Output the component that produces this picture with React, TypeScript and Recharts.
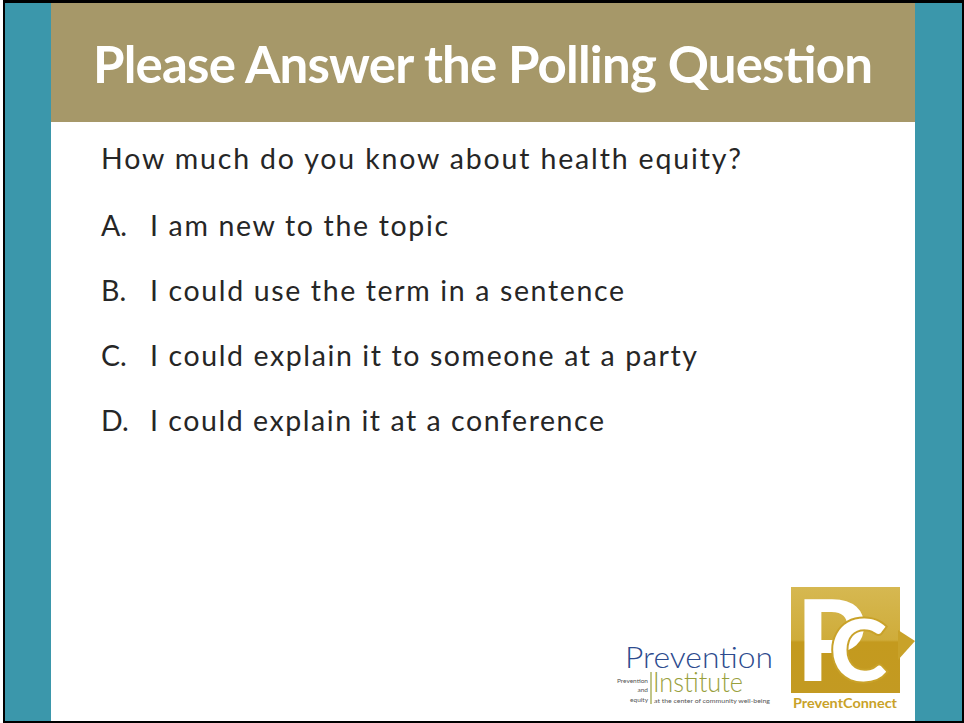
import { BarChart, Bar, XAxis, YAxis } from 'recharts';

const TITLE = 'Please Answer the Polling Question';
const QUESTION = 'How much do you know about health equity?';
const LETTERS = ['A.', 'B.', 'C.', 'D.'];
const OPTIONS = [
  'I am new to the topic',
  'I could use the term in a sentence',
  'I could explain it to someone at a party',
  'I could explain it at a conference',
];
// votes are not shown on the slide, every bar stays empty
const VOTES = [0, 0, 0, 0];

const TEAL = '#3b97ab';
const GOLD = '#a69869';
const INK = '#262626';
const FONT = 'Lato, "Open Sans", sans-serif';

// measured text widths on the slide (Calibri there, so spacing is stretched)
const OPTION_WIDTHS = [298, 474, 547, 454];

const rows = OPTIONS.map((option, i) => ({ option, letter: LETTERS[i], votes: VOTES[i] }));

function OptionTick(props: any) {
  const { y, payload } = props;
  const i = payload.index;
  return (
    <g>
      <text x={101} y={y} dy={9} fill={INK} fontFamily={FONT} fontSize={28.5}>
        {LETTERS[i]}
      </text>
      <text
        x={150}
        y={y}
        dy={9}
        fill={INK}
        fontFamily={FONT}
        fontSize={28.5}
        textLength={OPTION_WIDTHS[i]}
        lengthAdjust="spacing"
      >
        {payload.value}
      </text>
    </g>
  );
}

function Slide() {
  return (
    <svg width={964} height={723} style={{ position: 'absolute', left: 0, top: 0 }}>
      <rect x={0} y={0} width={964} height={723} fill="#fff" />
      <rect x={3} y={0} width={961} height={723} fill="#000" />
      <rect x={5} y={3} width={957} height={718} fill={TEAL} />
      <rect x={51} y={3} width={864} height={718} fill="#fff" />
      <rect x={51} y={3} width={864} height={119} fill={GOLD} />
      <text
        x={483}
        y={83}
        textAnchor="middle"
        fill="#fff"
        fontFamily={FONT}
        fontWeight={700}
        fontSize={51}
        textLength={780}
        lengthAdjust="spacing"
      >
        {TITLE}
      </text>
      <text
        x={101}
        y={169}
        fill={INK}
        fontFamily={FONT}
        fontSize={28.5}
        textLength={640}
        lengthAdjust="spacing"
      >
        {QUESTION}
      </text>
    </svg>
  );
}

function Logos() {
  return (
    <svg width={964} height={723} style={{ position: 'absolute', left: 0, top: 0, pointerEvents: 'none' }}>
      <defs>
        <linearGradient id="pcGold" x1="0" y1="0" x2="0" y2="1">
          <stop offset="0" stopColor="#d6b851" />
          <stop offset="0.5" stopColor="#cfac3a" />
          <stop offset="0.52" stopColor="#c49a1e" />
          <stop offset="1" stopColor="#c39a22" />
        </linearGradient>
      </defs>
      {/* Prevention Institute */}
      <text x={625} y={668} fill="#2d4b8e" fontFamily={FONT} fontWeight={300} fontSize={29} textLength={148} lengthAdjust="spacingAndGlyphs">
        Prevention
      </text>
      <text x={653} y={692} fill="#98a03c" fontFamily={FONT} fontWeight={300} fontSize={27} textLength={90} lengthAdjust="spacingAndGlyphs">
        Institute
      </text>
      <line x1={651} y1={672} x2={651} y2={704} stroke="#98a03c" strokeWidth={1.2} />
      <g fill="#555" fontFamily={FONT} fontSize={6.5} textAnchor="end">
        <text x={648} y={683}>Prevention</text>
        <text x={648} y={692}>and</text>
        <text x={648} y={702}>equity</text>
      </g>
      <text x={654} y={703} fill="#555" fontFamily={FONT} fontSize={6.5} textLength={116} lengthAdjust="spacingAndGlyphs">
        at the center of community well-being
      </text>
      {/* PreventConnect */}
      <rect x={791} y={587} width={109} height={106} fill="url(#pcGold)" />
      <polygon points="898,630 915,641 898,660" fill="#c9a229" />
      <text x={796} y={681} fill="#fff" fontFamily={FONT} fontWeight={900} fontSize={112}>
        <tspan>P</tspan>
        <tspan
          dx={-36}
          fontSize={86}
          stroke="#c9a229"
          strokeWidth={4}
          paintOrder="stroke"
        >
          C
        </tspan>
      </text>
      <text x={793} y={708} fill="#c9a229" fontFamily={FONT} fontWeight={700} fontSize={13} textLength={104} lengthAdjust="spacingAndGlyphs">
        PreventConnect
      </text>
    </svg>
  );
}

export default function App() {
  return (
    <div style={{ position: 'absolute', left: 0, top: 0, width: 964, height: 723 }}>
      <Slide />
      <div style={{ position: 'absolute', left: 0, top: 0 }}>
        <BarChart
          width={964}
          height={723}
          data={rows}
          layout="vertical"
          margin={{ top: 194, right: 0, bottom: 269, left: 0 }}
        >
          <XAxis type="number" domain={[0, 1]} hide />
          <YAxis
            type="category"
            dataKey="option"
            width={100}
            axisLine={false}
            tickLine={false}
            tick={(p: any) => <OptionTick {...p} />}
          />
          <Bar dataKey="votes" fill={TEAL} isAnimationActive={false} />
        </BarChart>
      </div>
      <Logos />
    </div>
  );
}
